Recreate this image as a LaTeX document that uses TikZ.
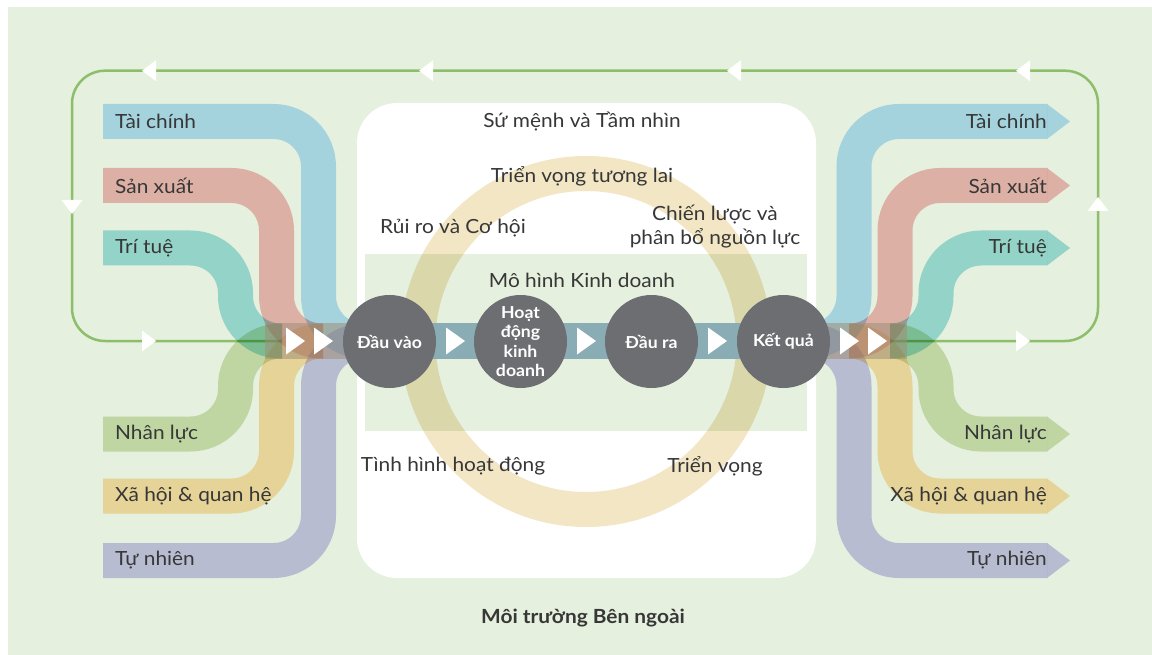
\documentclass[tikz,border=0pt]{standalone}
\usepackage{fontspec}
\setmainfont{Lato}[FakeStretch=1.07]
\usetikzlibrary{calc}

\definecolor{bgGreen}{RGB}{229,240,222}
\definecolor{loopGreen}{RGB}{141,190,105}
\definecolor{capBlue}{RGB}{183,225,255}
\definecolor{capSalmon}{RGB}{247,187,190}
\definecolor{capTeal}{RGB}{165,225,230}
\definecolor{capGreen}{RGB}{213,228,187}
\definecolor{capYellow}{RGB}{255,225,175}
\definecolor{capLav}{RGB}{205,200,241}
\definecolor{flowBand}{RGB}{138,172,181}
\definecolor{flowTail}{RGB}{160,142,118}
\definecolor{ringBeige}{RGB}{243,230,197}
\definecolor{stepGray}{RGB}{109,110,114}
\definecolor{txtDark}{RGB}{55,55,55}

\tikzset{
  band/.style={line width=35pt, line cap=butt, line join=round, rounded corners=45pt},
  stepnode/.style={circle, fill=stepGray, minimum size=93pt, inner sep=0pt,
    text=white, align=center, font=\fontsize{16.5}{19.5}\selectfont\bfseries},
  lbl/.style={text=txtDark, font=\fontsize{19.5}{24}\selectfont, inner sep=0pt},
  lblL/.style={lbl, anchor=west},
  lblR/.style={lbl, anchor=east},
}

\begin{document}
\begin{tikzpicture}[x=1pt, y=-1pt]
\useasboundingbox (0,0) rectangle (1152,655);
\fill[white] (0,0) rectangle (1152,655);
\fill[bgGreen] (8,7) rectangle (1152,655);

% inner area: mission box and business-model strip
\fill[white, rounded corners=40pt] (357,103) rectangle (816,578);
\fill[bgGreen] (365,254) rectangle (807,431);

\begin{scope}[blend mode=multiply]
  \draw[ringBeige, line width=35pt] (586,341.5) circle[radius=168];
\end{scope}

% feedback loop around the model
\coordinate (loopR) at (890,341);
\coordinate (loopL) at (282,341);
\draw[loopGreen, line width=2.5pt, rounded corners=33pt]
  (loopR) -- (1098,341) -- (1098,70.7) -- (72,70.7) -- (72,341) -- (loopL);

% capital ribbons
\begin{scope}[blend mode=multiply]
  % inputs (left)
  \draw[band, capBlue]   (103,121.5) -- (318.5,121.5) -- (318.5,341) -- (365,341);
  \draw[band, capSalmon] (103,185.5) -- (276.5,185.5) -- (276.5,341) -- (323,341);
  \draw[band, capTeal]   (103,248)   -- (235.5,248)   -- (235.5,341) -- (282,341);
  \draw[band, capGreen]  (103,434)   -- (235.5,434)   -- (235.5,341) -- (282,341);
  \draw[band, capYellow] (103,496)   -- (276.5,496)   -- (276.5,341) -- (323,341);
  \draw[band, capLav]    (103,560.5) -- (318.5,560.5) -- (318.5,341) -- (365,341);
  % outcomes (right)
  \draw[band, capBlue]   (808,341) -- (854,341)   -- (854,121.5)   -- (1047,121.5);
  \draw[band, capSalmon] (849,341) -- (895,341)   -- (895,185.5)   -- (1047,185.5);
  \draw[band, capTeal]   (890,341) -- (936,341)   -- (936,248)     -- (1047,248);
  \draw[band, capGreen]  (890,341) -- (936,341)   -- (936,434)     -- (1047,434);
  \draw[band, capYellow] (849,341) -- (895,341)   -- (895,496)     -- (1047,496);
  \draw[band, capLav]    (808,341) -- (854,341)   -- (854,560.5)   -- (1047,560.5);
  \fill[capBlue]   (1047,104)   -- (1070,121.5) -- (1047,139)   -- cycle;
  \fill[capSalmon] (1047,168)   -- (1070,185.5) -- (1047,203)   -- cycle;
  \fill[capTeal]   (1047,230.5) -- (1070,248)   -- (1047,265.5) -- cycle;
  \fill[capGreen]  (1047,416.5) -- (1070,434)   -- (1047,451.5) -- cycle;
  \fill[capYellow] (1047,478.5) -- (1070,496)   -- (1047,513.5) -- cycle;
  \fill[capLav]    (1047,543)   -- (1070,560.5) -- (1047,578)   -- cycle;
\end{scope}

% value-creation stream
\coordinate (flowL) at (265,341);
\coordinate (flowR) at (907,341);
\coordinate (c1c) at (389.5,341);
\coordinate (c4c) at (783.5,341);
\draw[flowTail, line width=35.5pt, opacity=0.55] (flowL) -- (c1c);
\draw[flowTail, line width=35.5pt, opacity=0.55] (c4c) -- (flowR);
\draw[flowBand, line width=35.5pt] (c1c) -- (c4c);

% loop direction marks
\foreach \x in {142,419,727,1016}
  \fill[white] (\x,70.7) -- (\x+14,60.2) -- (\x+14,81.2) -- cycle;
\foreach \x in {156,1030}
  \fill[white] (\x,341) -- (\x-14,330.5) -- (\x-14,351.5) -- cycle;
\fill[white] (72,214) -- (61.5,200) -- (82.5,200) -- cycle;
\fill[white] (1098,197) -- (1087.5,211) -- (1108.5,211) -- cycle;

% process steps
\node[stepnode] (c1) at (389.5,341.5) {Đầu vào};
\node[stepnode] (c2) at (520.5,341.5) {Hoạt\\động\\kinh\\doanh};
\node[stepnode] (c3) at (651.5,341.5) {Đầu ra};
\node[stepnode] (c4) at (783.5,341.5) {Kết quả};

% flow direction marks
\foreach \x in {295.5,323.5,455.5,586.5,717.5,849.5,877.5}
  \fill[white] (\x-9.5,327.5) -- (\x+9.5,341) -- (\x-9.5,354.5) -- cycle;

% capital labels
\node[lblL] (l1) at (115,121.5) {Tài chính};
\node[lblL] (l2) at (115,185.5) {Sản xuất};
\node[lblL] (l3) at (115,248)   {Trí tuệ};
\node[lblL] (l4) at (115,434)   {Nhân lực};
\node[lblL] (l5) at (115,496)   {Xã hội \& quan hệ};
\node[lblL] (l6) at (115,560.5) {Tự nhiên};
\node[lblR] (r1) at (1047,121.5) {Tài chính};
\node[lblR] (r2) at (1047,185.5) {Sản xuất};
\node[lblR] (r3) at (1047,248)   {Trí tuệ};
\node[lblR] (r4) at (1047,434)   {Nhân lực};
\node[lblR] (r5) at (1047,496)   {Xã hội \& quan hệ};
\node[lblR] (r6) at (1047,560.5) {Tự nhiên};

% organisation labels
\node[lbl] (m1) at (582,122) {Sứ mệnh và Tầm nhìn};
\node[lbl] (m2) at (582,176) {Triển vọng tương lai};
\node[lbl] (m3) at (453,228) {Rủi ro và Cơ hội};
\node[lbl, align=center] (m4) at (715,227) {Chiến lược và\\phân bổ nguồn lực};
\node[lbl] (m5) at (582,280) {Mô hình Kinh doanh};
\node[lbl] (m6) at (453,466) {Tình hình hoạt động};
\node[lbl] (m7) at (715,466) {Triển vọng};
\node[text=txtDark, font=\fontsize{19.5}{23}\selectfont\bfseries] (env) at (583,618) {Môi trường Bên ngoài};
\end{tikzpicture}
\end{document}
